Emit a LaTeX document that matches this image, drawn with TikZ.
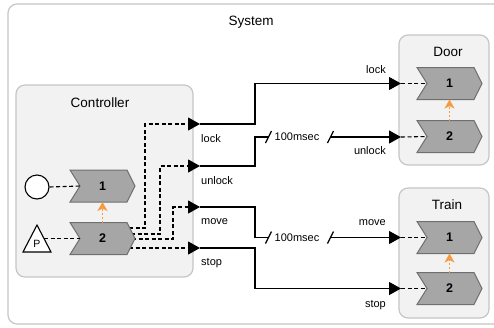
\documentclass[tikz,border=0pt]{standalone}
\usepackage{fontspec}
\setmainfont{Liberation Sans}
\usetikzlibrary{arrows.meta}
\definecolor{boxfill}{HTML}{F2F2F2}
\definecolor{boxline}{HTML}{C6C6C6}
\definecolor{chevfill}{HTML}{A6A6A6}
\definecolor{chevline}{HTML}{6F6F6F}
\definecolor{orangearr}{HTML}{F79A3E}
\tikzset{
 group/.style={draw=boxline, fill=boxfill, line width=1.2pt, rounded corners=9pt},
 chevst/.style={draw=chevline, fill=chevfill, line width=1pt, line join=miter},
 num/.style={font=\fontsize{12.5}{14}\selectfont\bfseries, inner sep=0pt},
 grouptitle/.style={font=\fontsize{13.5}{16}\selectfont, inner sep=0pt},
 lbl/.style={font=\fontsize{11}{13}\selectfont, inner sep=0pt},
 conn/.style={draw=black, line width=1.2pt, -{Triangle[length=12pt,width=13pt]}},
 wire/.style={draw=black, line width=1.2pt},
 dline/.style={draw=black, line width=1.1pt, dash pattern=on 4pt off 2.5pt},
 darr/.style={dline, -{Triangle[length=12pt,width=13pt]}},
 oarr/.style={draw=orangearr, line width=1.6pt, dash pattern=on 2pt off 2pt, -{Stealth[length=9pt,width=10pt,inset=2.5pt]}},
}
\newcommand\chev[4]{%
 \path[chevst] (#2,#3-16) -- (#2+57,#3-16) -- (#2+65,#3) -- (#2+57,#3+16) -- (#2,#3+16) -- (#2+10,#3) -- cycle;
 \node[num] (#1) at (#2+32.5,#3) {#4};
 \coordinate (#1-in) at (#2+10,#3);
 \coordinate (#1-top) at (#2+32.5,#3-16);
 \coordinate (#1-bot) at (#2+32.5,#3+16);
}
\begin{document}
\begin{tikzpicture}[x=1pt,y=-1pt]
\useasboundingbox (0,0) rectangle (494,327);
\clip (0,0) rectangle (494,327);
\fill[white] (0,0) rectangle (494,327);
% System
\path[group, fill=white] (8,4) rectangle (502,324);
\node[grouptitle] (systitle) at (251,22) {System};
% Controller
\path[group] (16,85) rectangle (193,277);
\node[grouptitle] (ctitle) at (100,103) {Controller};
% Door
\path[group] (399,35) rectangle (489,165);
\node[grouptitle] (dtitle) at (448,52) {Door};
% Train
\path[group] (399,188) rectangle (489,318);
\node[grouptitle] (ttitle) at (447,205) {Train};

% ports
\coordinate (cl) at (200,124);
\coordinate (cu) at (200,166);
\coordinate (cm) at (200,207);
\coordinate (cs) at (200,248);
\coordinate (dl) at (401,83.5);
\coordinate (du) at (401,137);
\coordinate (tl) at (401,237.5);
\coordinate (ts) at (401,288.5);
\coordinate (c2o1) at (129,228);
\coordinate (c2o2) at (131,234);
\coordinate (c2o3) at (132,239);
\coordinate (c2o4) at (129,248);

% controller internal dashed connectors
\draw[darr] (c2o1) -| (145,124) -- (cl);
\draw[darr] (c2o2) -| (160,166) -- (cu);
\draw[darr] (c2o3) -| (173,207) -- (cm);
\draw[darr] (c2o4) -- (cs);

% chevrons
\chev{c1}{70}{186}{1}
\chev{c2}{70}{238.5}{2}
\chev{d1}{417}{83.5}{1}
\chev{d2}{417}{136.5}{2}
\chev{t1}{417}{237.5}{1}
\chev{t2}{417}{288.5}{2}

% start states
\node[circle, draw, fill=white, minimum size=24pt, inner sep=0pt, line width=1.1pt] (st) at (37,187) {};
\filldraw[draw=black, fill=white, line width=1.1pt, line join=miter] (37,225) -- (51,252) -- (23,252) -- cycle;
\node[font=\fontsize{10.5}{12}\selectfont, inner sep=0pt] (pn) at (37,244) {P};
\coordinate (pr) at (44,238.5);
\draw[dline] (st.east) -- (c1-in);
\draw[dline] (pr) -- (c2-in);

% orange dotted arrows
\draw[oarr] (c2-top) -- (c1-bot);
\draw[oarr] (d2-top) -- (d1-bot);
\draw[oarr] (t2-top) -- (t1-bot);

% door / train dashed
\draw[dline] (dl) -- (d1-in);
\draw[dline] (du) -- (d2-in);
\draw[dline] (tl) -- (t1-in);
\draw[dline] (ts) -- (t2-in);

% system connectors
\draw[conn] (cl) -- (255,124) |- (dl);
\draw[wire] (cu) -- (255,166) |- (268,137);
\draw[wire] (265.5,143) -- (271.5,131);
\node[lbl] (del1) at (297,137) {100msec};
\draw[wire] (327.5,143) -- (333.5,131);
\draw[conn] (331,137) -- (du);

\draw[wire] (cm) -- (255,207) |- (268,237.5);
\draw[wire] (265.5,243.5) -- (271.5,231.5);
\node[lbl] (del2) at (297,237.5) {100msec};
\draw[wire] (327.5,243.5) -- (333.5,231.5);
\draw[conn] (331,237.5) -- (tl);

\draw[conn] (cs) -- (255,248) |- (ts);

% labels
\node[lbl, anchor=west] (l1) at (201,139) {lock};
\node[lbl, anchor=west] (l2) at (201,181) {unlock};
\node[lbl, anchor=west] (l3) at (201,222) {move};
\node[lbl, anchor=west] (l4) at (201,263) {stop};
\node[lbl, anchor=east] (r1) at (386,70) {lock};
\node[lbl, anchor=east] (r2) at (386,151) {unlock};
\node[lbl, anchor=east] (r3) at (386,223) {move};
\node[lbl, anchor=east] (r4) at (386,305) {stop};
\end{tikzpicture}
\end{document}
